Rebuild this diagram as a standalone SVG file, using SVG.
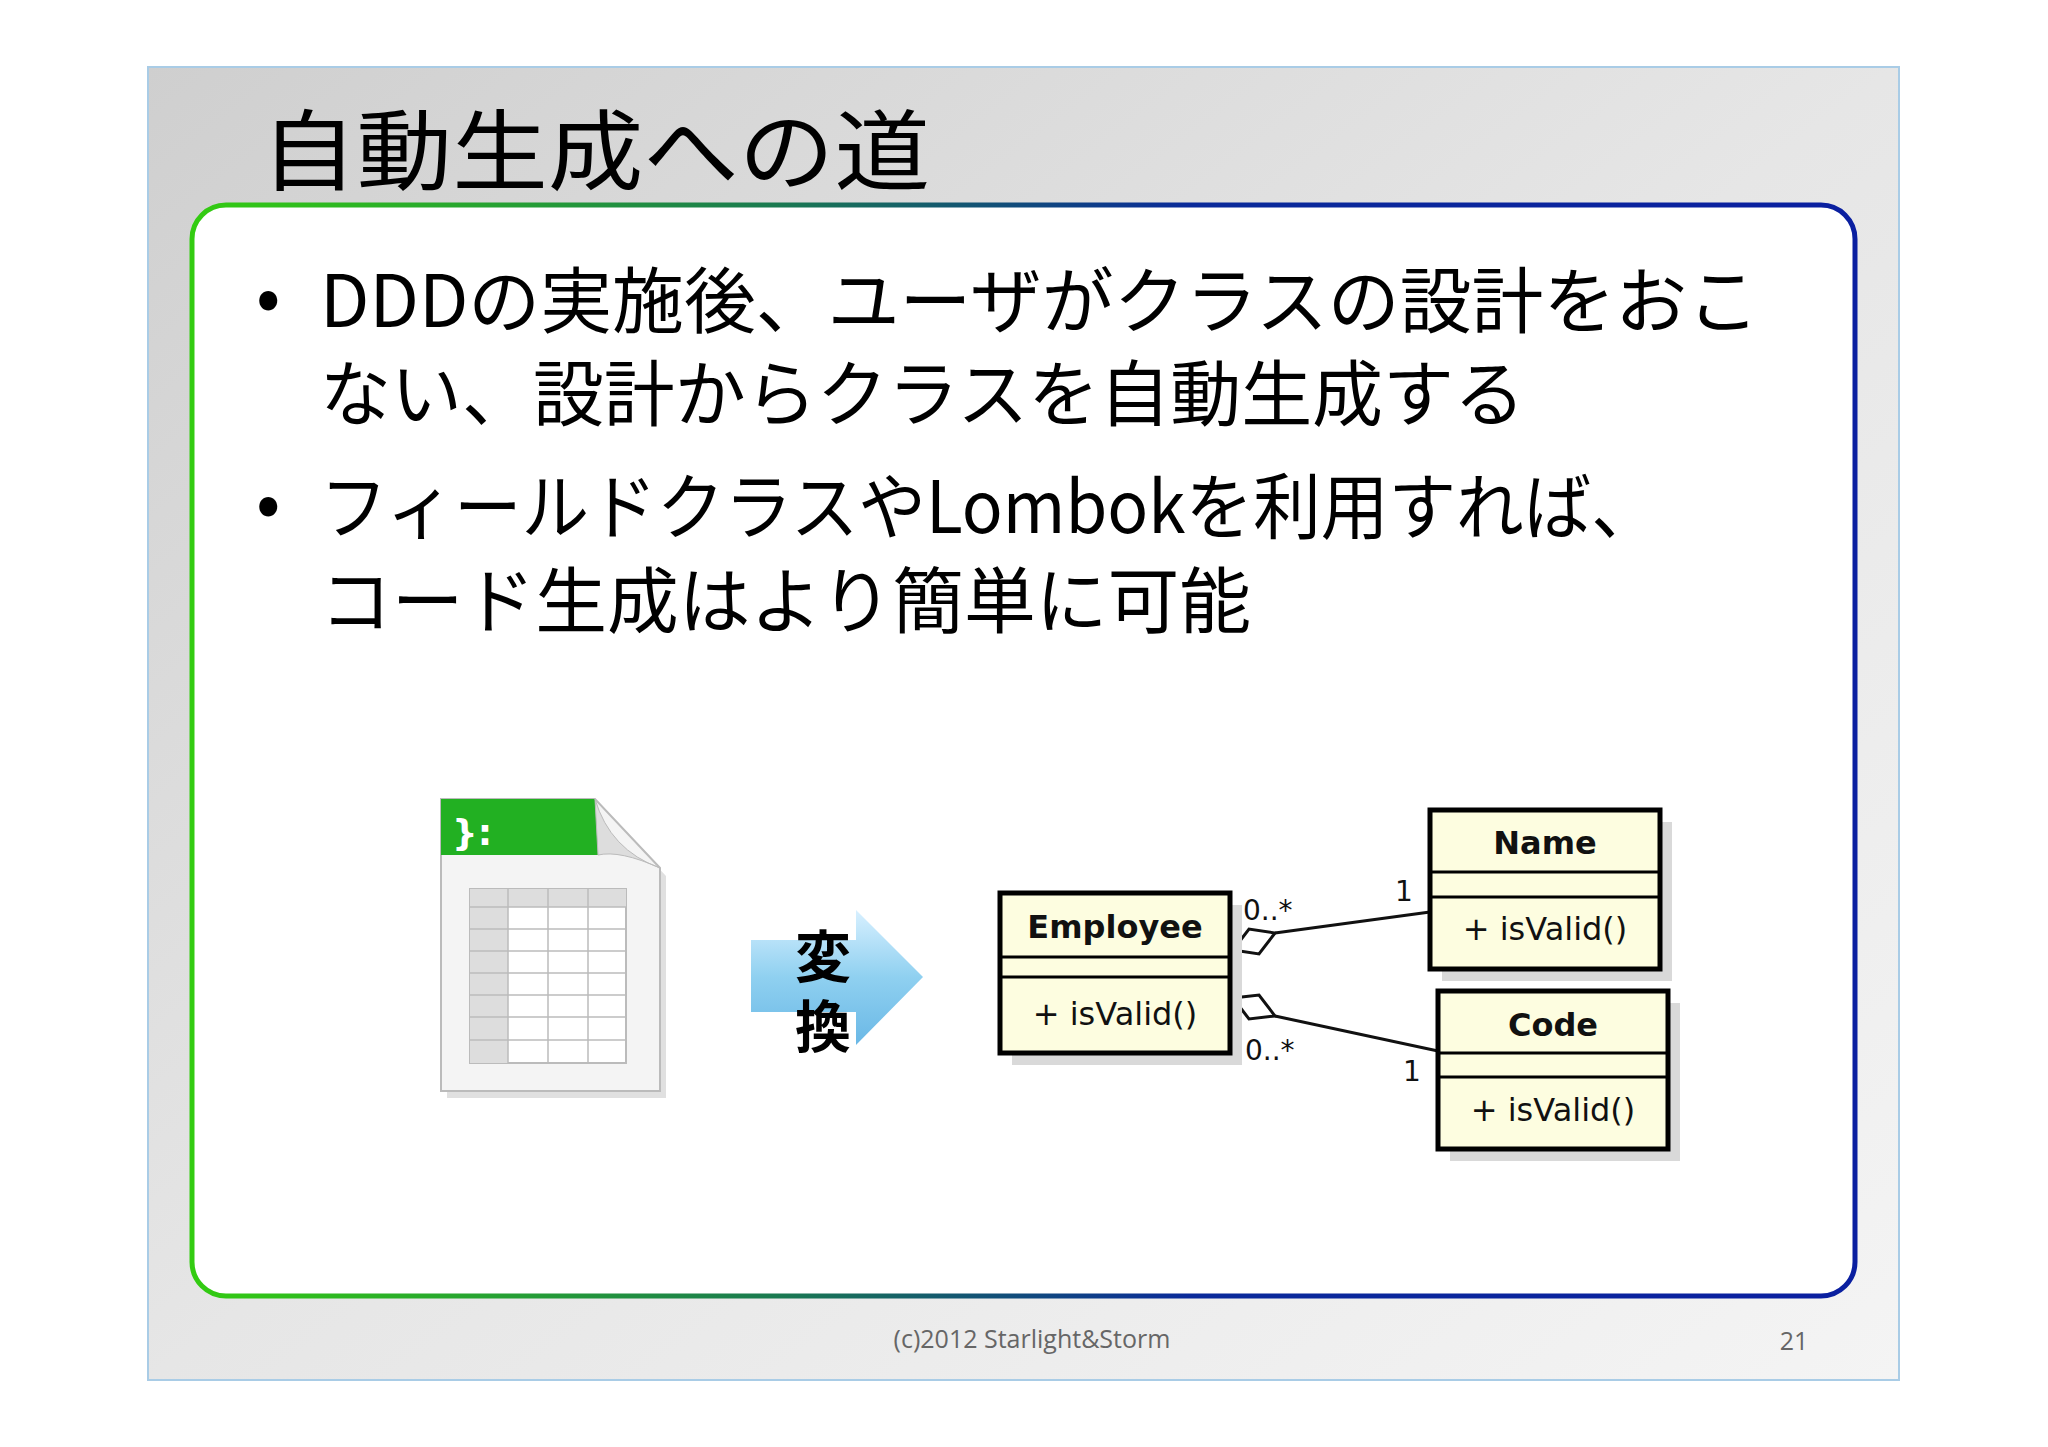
<svg xmlns="http://www.w3.org/2000/svg" width="2048" height="1447" viewBox="0 0 2048 1447">
<defs>
<linearGradient id="bg" x1="0" y1="0" x2="1" y2="1"><stop offset="0" stop-color="#cfcfcf"/><stop offset="0.5" stop-color="#e6e6e6"/><stop offset="1" stop-color="#f4f4f4"/></linearGradient>
<linearGradient id="frame" x1="0" y1="0" x2="1" y2="0"><stop offset="0" stop-color="#33cc11"/><stop offset="0.35" stop-color="#1a7a50"/><stop offset="0.6" stop-color="#0a2a9a"/><stop offset="1" stop-color="#0a1fa0"/></linearGradient>
<linearGradient id="arr" x1="0" y1="0" x2="0" y2="1"><stop offset="0" stop-color="#d8f0ff"/><stop offset="0.5" stop-color="#8fd0f0"/><stop offset="1" stop-color="#6ab8e6"/></linearGradient>
<style>
.jp{font-family:"Noto Sans CJK JP","Noto Sans",sans-serif;fill:#000}
.uml{font-family:"DejaVu Sans","Noto Sans",sans-serif;fill:#111}
.box{fill:#fdfde0;stroke:#000;stroke-width:5}
.sep{stroke:#000;stroke-width:3}
.shadow{fill:#d9d9d9}
.conn{stroke:#111;stroke-width:3;fill:none}
.dia{fill:#fff;stroke:#111;stroke-width:3}
</style>
</defs>
<rect x="148" y="67" width="1751" height="1313" fill="url(#bg)" stroke="#a9cce6" stroke-width="2"/>
<text x="261" y="183" class="jp" font-size="88" textLength="669" lengthAdjust="spacingAndGlyphs">自動生成への道</text>
<rect x="192" y="205" width="1663" height="1091" rx="34" fill="#fff" stroke="url(#frame)" stroke-width="5"/>
<g class="jp" font-size="72">
<text x="256" y="322">•</text>
<text x="320" y="327" textLength="1439" lengthAdjust="spacingAndGlyphs">DDDの実施後、ユーザがクラスの設計をおこ</text>
<text x="320" y="420" textLength="1205" lengthAdjust="spacingAndGlyphs">ない、設計からクラスを自動生成する</text>
<text x="256" y="528">•</text>
<text x="320" y="533" textLength="1339" lengthAdjust="spacingAndGlyphs">フィールドクラスやLombokを利用すれば、</text>
<text x="320" y="627" textLength="931" lengthAdjust="spacingAndGlyphs">コード生成はより簡単に可能</text>
</g>
<g id="spreadsheet">
<path d="M447 806 H600 L666 876 V1098 H447 Z" fill="#ccc" opacity="0.6"/>
<path d="M441 799 H595 L660 868 V1091 H441 Z" fill="#f4f4f4" stroke="#bbb" stroke-width="2"/>
<path d="M441 799 H595 Q600 830 598 855 H441 Z" fill="#22b022"/>
<path d="M595 799 Q610 850 660 868 Q620 850 598 855 Z" fill="#ddd" stroke="#bbb" stroke-width="1"/>
<text x="452" y="845" font-family="DejaVu Sans,sans-serif" font-size="36" font-weight="bold" fill="#fff">}:</text>
<rect x="470" y="889" width="156" height="174" fill="#fff" stroke="#bbb" stroke-width="2"/>
<rect x="470" y="889" width="156" height="18" fill="#ddd"/>
<rect x="470" y="889" width="38" height="174" fill="#ddd"/>
<g stroke="#bbb" stroke-width="1.5">
<line x1="508" y1="889" x2="508" y2="1063"/><line x1="548" y1="889" x2="548" y2="1063"/><line x1="588" y1="889" x2="588" y2="1063"/>
<line x1="470" y1="907" x2="626" y2="907"/><line x1="470" y1="929" x2="626" y2="929"/><line x1="470" y1="951" x2="626" y2="951"/><line x1="470" y1="973" x2="626" y2="973"/><line x1="470" y1="995" x2="626" y2="995"/><line x1="470" y1="1017" x2="626" y2="1017"/><line x1="470" y1="1040" x2="626" y2="1040"/>
</g>
</g>
<g id="convert">
<path d="M751 940 H856 V910 L923 977 L856 1045 V1012 H751 Z" fill="url(#arr)"/>
<text x="823" y="977" class="jp" font-size="56" font-weight="bold" text-anchor="middle">変</text>
<text x="823" y="1047" class="jp" font-size="56" font-weight="bold" text-anchor="middle">換</text>
</g>
<g id="connectors">
<line class="conn" x1="1275" y1="933" x2="1430" y2="912"/>
<path class="dia" d="M1233 950 L1259 954 L1275 933 L1249 929 Z"/>
<line class="conn" x1="1275" y1="1016" x2="1438" y2="1051"/>
<path class="dia" d="M1233 998 L1249 1019 L1275 1016 L1259 995 Z"/>
<g class="uml" font-size="28">
<text x="1243" y="920">0..*</text>
<text x="1395" y="901">1</text>
<text x="1245" y="1060">0..*</text>
<text x="1403" y="1081">1</text>
</g>
</g>
<g id="employee">
<rect class="shadow" x="1012" y="905" width="230" height="160"/>
<rect class="box" x="1000" y="893" width="230" height="160"/>
<line class="sep" x1="1000" y1="957" x2="1230" y2="957"/>
<line class="sep" x1="1000" y1="977" x2="1230" y2="977"/>
<text x="1115" y="938" class="uml" font-size="32" font-weight="bold" text-anchor="middle">Employee</text>
<text x="1115" y="1025" class="uml" font-size="32" text-anchor="middle">+ isValid()</text>
</g>
<g id="name">
<rect class="shadow" x="1442" y="822" width="230" height="159"/>
<rect class="box" x="1430" y="810" width="230" height="159"/>
<line class="sep" x1="1430" y1="872" x2="1660" y2="872"/>
<line class="sep" x1="1430" y1="897" x2="1660" y2="897"/>
<text x="1545" y="854" class="uml" font-size="32" font-weight="bold" text-anchor="middle">Name</text>
<text x="1545" y="940" class="uml" font-size="32" text-anchor="middle">+ isValid()</text>
</g>
<g id="code">
<rect class="shadow" x="1450" y="1003" width="230" height="158"/>
<rect class="box" x="1438" y="991" width="230" height="158"/>
<line class="sep" x1="1438" y1="1053" x2="1668" y2="1053"/>
<line class="sep" x1="1438" y1="1077" x2="1668" y2="1077"/>
<text x="1553" y="1036" class="uml" font-size="32" font-weight="bold" text-anchor="middle">Code</text>
<text x="1553" y="1121" class="uml" font-size="32" text-anchor="middle">+ isValid()</text>
</g>
<text x="1032" y="1348" font-family="Open Sans,Noto Sans,sans-serif" font-size="25" fill="#666" text-anchor="middle">(c)2012  Starlight&amp;Storm</text>
<text x="1794" y="1350" font-family="Open Sans,Noto Sans,sans-serif" font-size="25" fill="#666" text-anchor="middle">21</text>
</svg>
